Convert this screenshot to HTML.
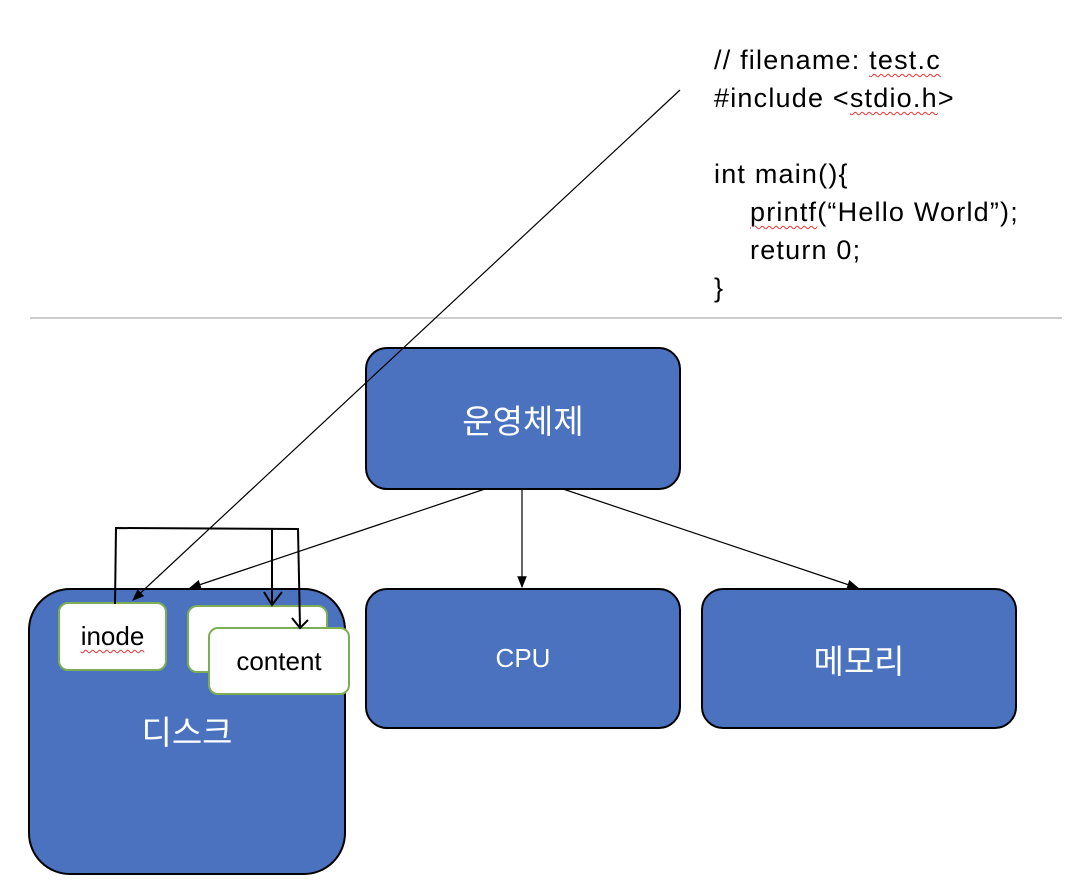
<!DOCTYPE html>
<html><head><style>
body{margin:0;width:1076px;height:892px;background:#fff;position:relative;overflow:hidden;font-family:"Liberation Sans","Noto Sans CJK KR",sans-serif}
.code{position:absolute;left:714px;top:41px;font-size:27px;letter-spacing:1.2px;line-height:38px;color:#000;white-space:pre}
.sq{text-decoration:underline wavy #e33;text-decoration-thickness:1px;text-underline-offset:4px}
.box{position:absolute;background:#4a72bf;border:2px solid #000;box-sizing:border-box;border-radius:22px;color:#fff;display:flex;align-items:center;justify-content:center;font-size:26px}
.k{font-size:33px}
.w{position:absolute;background:#fff;border:2px solid #7cae56;box-sizing:border-box;border-radius:10px;display:flex;align-items:center;justify-content:center;font-size:26px;color:#000}
</style></head><body>
<div class="code">// filename: <span class="sq">test.c</span>
#include &lt;<span class="sq">stdio.h</span>&gt;

int main(){
<span style="padding-left:36px"></span><span class="sq">printf</span>(“Hello World”);
<span style="padding-left:36px"></span>return 0;
}</div>
<div class="box k" style="left:365px;top:347px;width:316px;height:143px">운영체제</div>
<div class="box" style="left:365px;top:588px;width:316px;height:141px">CPU</div>
<div class="box k" style="left:701px;top:588px;width:316px;height:141px">메모리</div>
<div class="box k" style="left:28px;top:588px;width:318px;height:287px;border-radius:42px;align-items:flex-start;padding-top:116px">디스크</div>
<div class="w" style="left:58px;top:602px;width:109px;height:69px"><span class="sq">inode</span></div>
<div class="w" style="left:187px;top:605px;width:141px;height:68px"></div>
<div class="w" style="left:208px;top:627px;width:142px;height:68px">content</div>
<svg width="1076" height="892" style="position:absolute;left:0;top:0">
<defs><marker id="a" markerWidth="10" markerHeight="10" refX="9" refY="5" orient="auto"><path d="M0,1 L10,5 L0,9z" fill="#000"/></marker></defs>
<line x1="30" y1="318" x2="1062" y2="318" stroke="#999" stroke-width="1"/>
<g stroke="#000" stroke-width="1.2" fill="none">
<line x1="680" y1="90" x2="133" y2="600" marker-end="url(#a)"/>
<line x1="485" y1="489" x2="190" y2="588" marker-end="url(#a)"/>
<line x1="522" y1="489" x2="522" y2="587" marker-end="url(#a)"/>
<line x1="563" y1="489" x2="858" y2="588" marker-end="url(#a)"/>
</g>
<g stroke="#000" stroke-width="2" fill="none">
<path d="M115,604 L116,528 L298,529 L300,627"/>
<path d="M272,529 L272,605"/>
<path d="M264,592 L272,605 L282,592"/>
<path d="M292,618 L300,628 L308,620"/>
</g>
</svg>
</body></html>
